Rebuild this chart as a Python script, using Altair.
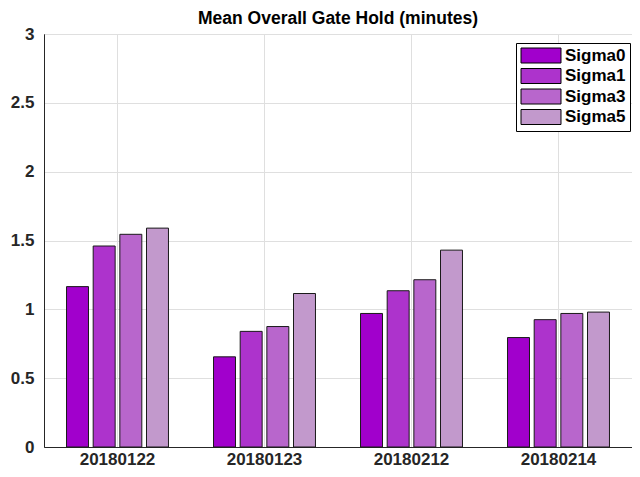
import altair as alt
import pandas as pd

dates = ["20180122", "20180123", "20180212", "20180214"]
series = ["Sigma0", "Sigma1", "Sigma3", "Sigma5"]
sigma0 = [1.165, 0.655, 0.97, 0.795]
sigma1 = [1.46, 0.84, 1.135, 0.925]
sigma3 = [1.545, 0.875, 1.215, 0.97]
sigma5 = [1.59, 1.115, 1.43, 0.98]
colors = ["#A100CC", "#AD33CC", "#B866CC", "#C299CC"]
y_ticks = [0, 0.5, 1, 1.5, 2, 2.5, 3]

rows = []
for s, vals in zip(series, [sigma0, sigma1, sigma3, sigma5]):
    for d, v in zip(dates, vals):
        rows.append({"date": d, "series": s, "value": v})
df = pd.DataFrame(rows)

FONT = "Liberation Sans"
AXC = "#262626"

chart = alt.Chart(df).mark_bar(stroke="#1a1a1a", strokeWidth=1).encode(
    x=alt.X("date:N", sort=dates,
            scale=alt.Scale(paddingInner=0, paddingOuter=0),
            axis=alt.Axis(title=None, labelAngle=0, bandPosition=0.5, grid=True,
                          ticks=False, labelFont=FONT, labelFontSize=17,
                          labelFontWeight="bold", labelColor=AXC, labelPadding=4,
                          domainColor=AXC, gridColor="#dfdfdf")),
    xOffset=alt.XOffset("series:N", sort=series,
                        scale=alt.Scale(paddingInner=0.176, paddingOuter=0.845)),
    y=alt.Y("value:Q", scale=alt.Scale(domain=[0, 3], nice=False),
            axis=alt.Axis(title=None, values=y_ticks, format="~g", ticks=False,
                          labelFont=FONT, labelFontSize=17, labelFontWeight="bold",
                          labelColor=AXC, labelPadding=10, domainColor=AXC,
                          gridColor="#dfdfdf")),
    color=alt.Color("series:N", sort=series,
                    scale=alt.Scale(domain=series, range=colors),
                    legend=alt.Legend(title=None, orient="none", legendX=472, legendY=9,
                                      symbolType="M-1,-1L4.333,-1L4.333,1L-1,1Z",
                                      symbolSize=225, symbolStrokeColor="black",
                                      symbolStrokeWidth=1, symbolOpacity=1,
                                      labelFont=FONT, labelFontSize=17,
                                      labelFontWeight="bold", labelColor="black",
                                      labelOffset=28, rowPadding=1.5,
                                      strokeColor="black", fillColor="white",
                                      padding=4)),
).properties(
    width=588, height=413,
    title=alt.Title("Mean Overall Gate Hold (minutes)", font=FONT, fontSize=17.5,
                    fontWeight="bold", color="black", anchor="middle", offset=-2),
    autosize="none",
    padding={"left": 36, "top": 26, "right": 0, "bottom": 22},
).configure_view(stroke=AXC, strokeWidth=1)

chart.save("out.html", embed_options={"renderer": "svg", "actions": False})
